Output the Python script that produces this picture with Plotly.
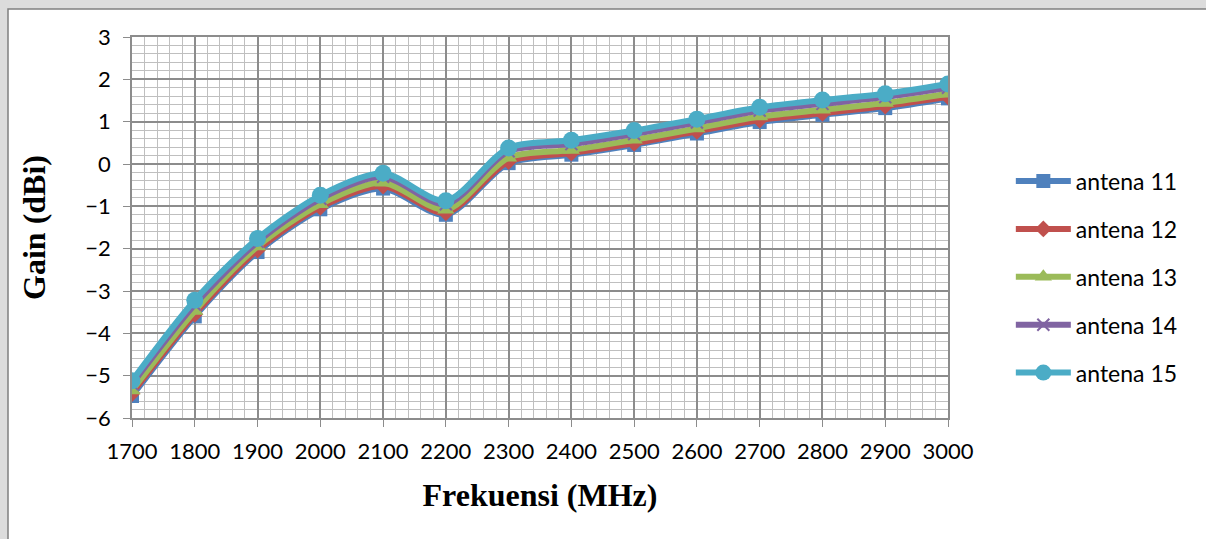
import plotly.graph_objects as go

freq = [1700, 1800, 1900, 2000, 2100, 2200, 2300, 2400, 2500, 2600, 2700, 2800, 2900, 3000]
antena_11 = [-5.48, -3.60, -2.08, -1.07, -0.58, -1.20, 0.02, 0.22, 0.45, 0.72, 0.99, 1.16, 1.32, 1.55]
antena_12 = [-5.42, -3.55, -2.03, -1.02, -0.52, -1.15, 0.06, 0.26, 0.49, 0.77, 1.04, 1.20, 1.37, 1.59]
antena_13 = [-5.35, -3.47, -1.95, -0.95, -0.44, -1.08, 0.15, 0.33, 0.57, 0.84, 1.12, 1.28, 1.44, 1.66]
antena_14 = [-5.20, -3.32, -1.84, -0.82, -0.30, -0.95, 0.30, 0.47, 0.71, 0.98, 1.26, 1.42, 1.58, 1.80]
antena_15 = [-5.12, -3.22, -1.76, -0.74, -0.22, -0.87, 0.38, 0.56, 0.79, 1.06, 1.34, 1.51, 1.66, 1.89]

names = ["antena 11", "antena 12", "antena 13", "antena 14", "antena 15"]
series = [antena_11, antena_12, antena_13, antena_14, antena_15]
colors = ["#4F81BD", "#C0504D", "#9BBB59", "#8064A2", "#4BACC6"]
symbols = ["square", "diamond", "triangle-up", "x-thin", "circle"]
msizes = [14, 13, 15, 12, 17]

fig = go.Figure()
for i, (n, s, c, sym, ms) in enumerate(zip(names, series, colors, symbols, msizes)):
    marker = dict(symbol=sym, size=ms, color=c)
    if sym == "x-thin":
        marker["line"] = dict(color=c, width=2)
    fig.add_trace(go.Scatter(
        x=freq, y=s, name=n, mode="lines+markers",
        line=dict(color=c, width=6, shape="spline", smoothing=0.8),
        marker=marker, legendgroup=n,
    ))

grid_major = "#8C8C8C"
grid_minor = "#BFBFBF"

fig.update_layout(
    width=1206, height=539,
    margin=dict(l=132, r=258, t=37, b=121),
    paper_bgcolor="#DCDCDC",
    plot_bgcolor="white",
    font=dict(family="Lato", size=22, color="black"),
    showlegend=True,
    legend=dict(x=1.077, y=0.37, xanchor="left", yanchor="middle",
                font=dict(family="Lato", size=23, color="black"),
                tracegroupgap=15, bgcolor="rgba(0,0,0,0)", itemwidth=55),
    shapes=[dict(type="rect", xref="paper", yref="paper",
                 x0=(8 - 132) / 816, x1=(1215 - 132) / 816,
                 y0=(418 - 545) / 381, y1=(418 - 9) / 381,
                 fillcolor="white", line=dict(color="#7F7F7F", width=1.5),
                 layer="below")],
)

fig.update_xaxes(
    range=[1700, 3000], dtick=100, tick0=1700,
    showgrid=True, gridcolor=grid_major, gridwidth=1.5,
    minor=dict(dtick=20, showgrid=True, gridcolor=grid_minor, gridwidth=1),
    showline=True, linecolor=grid_major, linewidth=1.5, mirror=True,
    ticks="outside", ticklen=7, tickcolor=grid_major, ticklabelstandoff=6,
    zeroline=False,
    title=dict(text="<b>Frekuensi (MHz)</b>", font=dict(family="Liberation Serif", size=32, color="black"), standoff=20),
)
fig.update_yaxes(
    range=[-6, 3], dtick=1,
    showgrid=True, gridcolor=grid_major, gridwidth=1.5,
    minor=dict(dtick=0.2, showgrid=True, gridcolor=grid_minor, gridwidth=1),
    showline=True, linecolor=grid_major, linewidth=1.5, mirror=True,
    ticks="outside", ticklen=7, tickcolor=grid_major, ticklabelstandoff=8,
    zeroline=False,
    title=dict(text="<b>Gain (dBi)</b>", font=dict(family="Liberation Serif", size=32, color="black"), standoff=30),
)

fig.write_html("out.html")
